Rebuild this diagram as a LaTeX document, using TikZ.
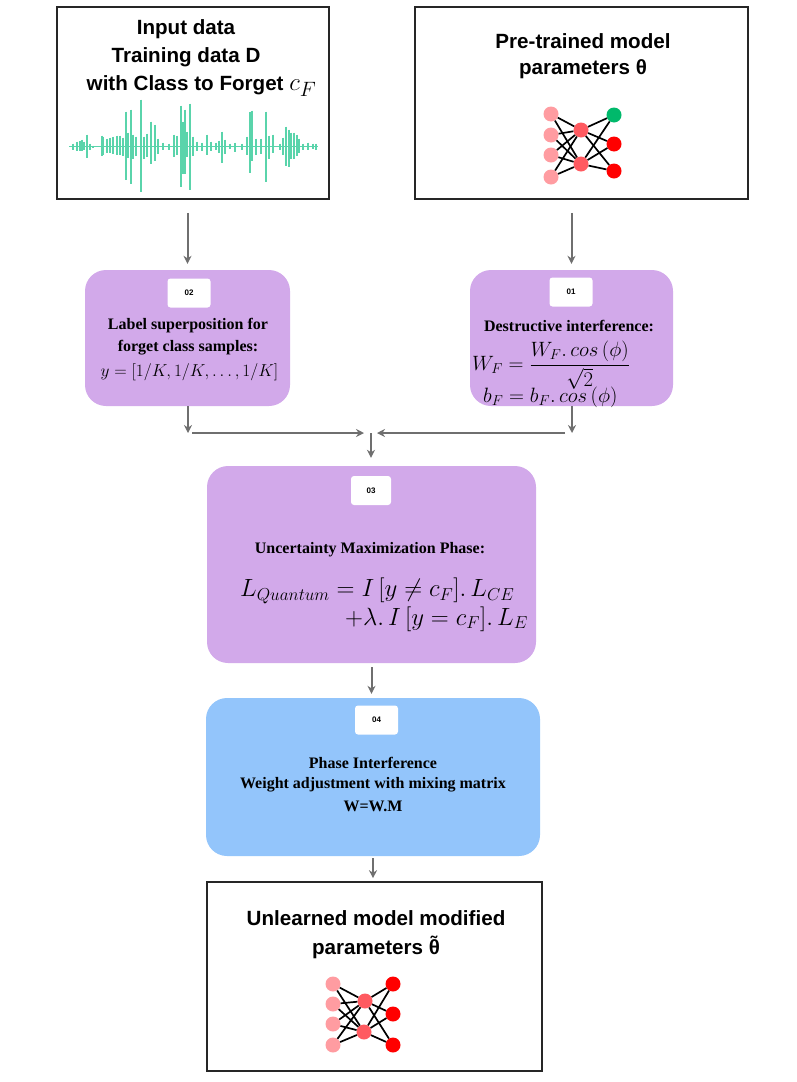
\documentclass[tikz,border=0pt]{standalone}
\usepackage{amsmath}
\usepackage{fontspec}
\setmainfont{Liberation Serif}
\newfontfamily\headfont{Liberation Sans}
\usetikzlibrary{arrows.meta}

\definecolor{boxpurple}{HTML}{D2A9EA}
\definecolor{boxblue}{HTML}{93C5FB}
\definecolor{flowgray}{HTML}{6F6F6F}
\definecolor{wavegreen}{HTML}{5AD4AB}
\definecolor{inlayer}{HTML}{FF9CA1}
\definecolor{midlayer}{HTML}{FF5A60}
\definecolor{outred}{HTML}{FF0000}
\definecolor{outgreen}{HTML}{00B96B}

\tikzset{
  plainbox/.style={draw=black!85, line width=1.6pt, fill=white, inner sep=0pt},
  stagebox/.style={fill=#1, rounded corners=21pt, inner sep=0pt},
  badge/.style={fill=white, rounded corners=3pt, minimum width=43pt, minimum height=29pt,
    inner sep=0pt, font=\headfont\fontsize{8}{9}\selectfont\bfseries},
  headtext/.style={inner sep=0pt, font=\headfont\fontsize{20.6}{24}\selectfont\bfseries},
  stagetext/.style={inner sep=0pt, font=\fontsize{16}{19}\selectfont\bfseries},
  mathtext/.style={inner sep=0pt, font=\fontsize{#1}{#1}\selectfont},
  flow/.style={->, flowgray, line width=2pt},
  neuron/.style={circle, fill=#1, minimum size=15pt, inner sep=0pt},
  synapse/.style={black, line width=1.7pt},
}

\begin{document}
\begin{tikzpicture}[x=1pt, y=-1pt, >={Stealth[length=8pt,width=8pt]}]
  \useasboundingbox (0,0) rectangle (796,1082);

  % Top boxes
  \node[plainbox, minimum width=272, minimum height=192] (input) at (193,103) {};
  \node[plainbox, minimum width=333, minimum height=192] (pretrained) at (581.5,103) {};
  \node[headtext] (inputA) at (186,29) {Input data};
  \node[headtext] (inputB) at (186,57) {Training data D};
  \node[headtext] (inputC) at (201.5,86) {with Class to Forget \fontsize{29}{29}\selectfont$c_F$};
  \node[headtext] (pretrainedA) at (583,41) {Pre-trained model};
  \node[headtext] (pretrainedB) at (583,69) {parameters θ};

  % Waveform
  \draw[wavegreen, line width=1.2pt] (69,146.7) -- (318,146.7);
  \foreach \x/\up/\dn in {73/3/3, 77/5/4, 80/6/4, 82/7/4, 84/5/3, 87/12/11, 90/3/3, 93/1/1,
      102/11/9, 103/10/8, 107/8/6, 110/9/6, 113/10/7, 117/11/8, 120/11/8, 123/9/9,
      126/35/33, 128/14/11, 131/37/37, 133/12/12, 136/10/9, 141/47/45, 144/10/12,
      147/13/10, 151/25/17, 155/22/14, 158/8/7, 163/4/3, 169/3/3, 174/12/10, 177/11/8,
      181/41/40, 183/25/27, 185/37/27, 187/15/10, 190/43/43, 193/10/9, 197/5/4, 202/4/4,
      207/12/8, 211/5/4, 216/4/3, 219/6/6, 222/15/16, 225/7/7, 230/3/2, 235/4/5, 242/3/3,
      247/10/8, 250/35/26, 252/36/14, 256/8/8, 261/8/7, 266/35/35, 269/11/12, 273/12/6,
      280/3/3, 283/9/8, 286/20/19, 289/17/20, 291/14/12, 294/14/12, 297/12/9, 299/8/6,
      303/3/3, 308/4/3, 313/3/2, 316/3/3} {
    \draw[wavegreen, line width=1.2pt] (\x,146.7-\up) -- (\x,146.7+\dn);
  }

  % Pre-trained network
  \foreach \name/\y in {pa/114, pb/135, pc/155, pd/177}
    \node[neuron=inlayer] (\name) at (551,\y) {};
  \node[neuron=midlayer] (pe) at (581,130) {};
  \node[neuron=midlayer] (pf) at (581,164) {};
  \node[neuron=outgreen] (pg) at (614,115) {};
  \node[neuron=outred] (ph) at (614,144) {};
  \node[neuron=outred] (pi) at (614,171) {};
  \foreach \a in {pa,pb,pc,pd}
    \foreach \b in {pe,pf}
      \draw[synapse] (\a) -- (\b);
  \foreach \a in {pe,pf}
    \foreach \b in {pg,ph,pi}
      \draw[synapse] (\a) -- (\b);

  % Stage 02 and stage 01
  \node[stagebox=boxpurple, minimum width=205, minimum height=136] (labelstage) at (187.5,338) {};
  \node[stagebox=boxpurple, minimum width=203, minimum height=136] (phasestage) at (571.5,338) {};
  \node[badge] (badgeB) at (189,293) {02};
  \node[badge] (badgeA) at (571,292) {01};
  \node[stagetext] (labelA) at (188,326) {Label superposition for};
  \node[stagetext] (labelB) at (188,348) {forget class samples:};
  \node[mathtext=17] (labelC) at (189.5,372) {$y=[1/K,1/K,\ldots,1/K]$};
  \node[stagetext] (phaseA) at (569,326) {Destructive interference:};
  \node[mathtext=19.5, anchor=west] (phaseB) at (472,365) {$W_F=\dfrac{W_F.\,cos\,(\phi)}{\sqrt{2}}$};
  \node[mathtext=19.5, anchor=west] (phaseC) at (483,397) {$b_F=b_F.\,cos\,(\phi)$};

  % Stage 03
  \node[stagebox=boxpurple, minimum width=329, minimum height=197] (lossstage) at (371.5,564.5) {};
  \node[badge, minimum width=40pt] (badgeC) at (371,490.5) {03};
  \node[stagetext] (lossA) at (370,550) {Uncertainty Maximization Phase:};
  \node[mathtext=26, anchor=west] (lossB) at (240,591) {$L_{Quantum}=I\,[y\neq c_F].\,L_{CE}$};
  \node[mathtext=26, anchor=east] (lossC) at (528,619) {$+\lambda.\,I\,[y=c_F].\,L_E$};

  % Stage 04
  \node[stagebox=boxblue, minimum width=334, minimum height=158] (mixstage) at (373,777) {};
  \node[badge] (badgeD) at (376.5,720) {04};
  \node[stagetext] (mixA) at (373,763) {Phase Interference};
  \node[stagetext] (mixB) at (373,785) {Weight adjustment with mixing matrix};
  \node[stagetext] (mixC) at (373,806) {W=W.M};

  % Output box
  \node[plainbox, minimum width=335, minimum height=189] (output) at (374.5,976.5) {};
  \node[headtext] (outputA) at (376,918) {Unlearned model modified};
  \node[headtext] (outputB) at (376,947) {parameters \~{θ}};

  % Unlearned network
  \foreach \name/\y in {ua/984, ub/1004, uc/1024, ud/1045}
    \node[neuron=inlayer] (\name) at (333,\y) {};
  \node[neuron=midlayer] (ue) at (365,1001) {};
  \node[neuron=midlayer] (uf) at (364,1032) {};
  \foreach \name/\y in {ug/984, uh/1014, ui/1045}
    \node[neuron=outred] (\name) at (393,\y) {};
  \foreach \a in {ua,ub,uc,ud}
    \foreach \b in {ue,uf}
      \draw[synapse] (\a) -- (\b);
  \foreach \a in {ue,uf}
    \foreach \b in {ug,uh,ui}
      \draw[synapse] (\a) -- (\b);

  % Flow arrows
  \coordinate (joinL) at (188,433);
  \coordinate (joinC) at (371,433);
  \coordinate (joinR) at (572,433);
  \draw[flow, shorten <=13pt, shorten >=6pt] (input.south -| labelstage.north) -- (labelstage.north);
  \draw[flow, shorten <=13pt, shorten >=6pt] (pretrained.south -| phasestage.north) -- (phasestage.north);
  \draw[flow] (labelstage.south -| joinL) -- (joinL);
  \draw[flow] (phasestage.south -| joinR) -- (joinR);
  \draw[flow, shorten <=4pt, shorten >=7pt] (joinL) -- (joinC);
  \draw[flow, shorten <=7pt, shorten >=6pt] (joinR) -- (joinC);
  \draw[flow, shorten >=8pt] (joinC) -- (lossstage.north -| joinC);
  \draw[flow, shorten <=4pt, shorten >=4pt] (lossstage.south) -- (mixstage.north -| lossstage.south);
  \draw[flow, shorten <=2pt, shorten >=3pt] (mixstage.south) -- (output.north -| mixstage.south);
\end{tikzpicture}
\end{document}
